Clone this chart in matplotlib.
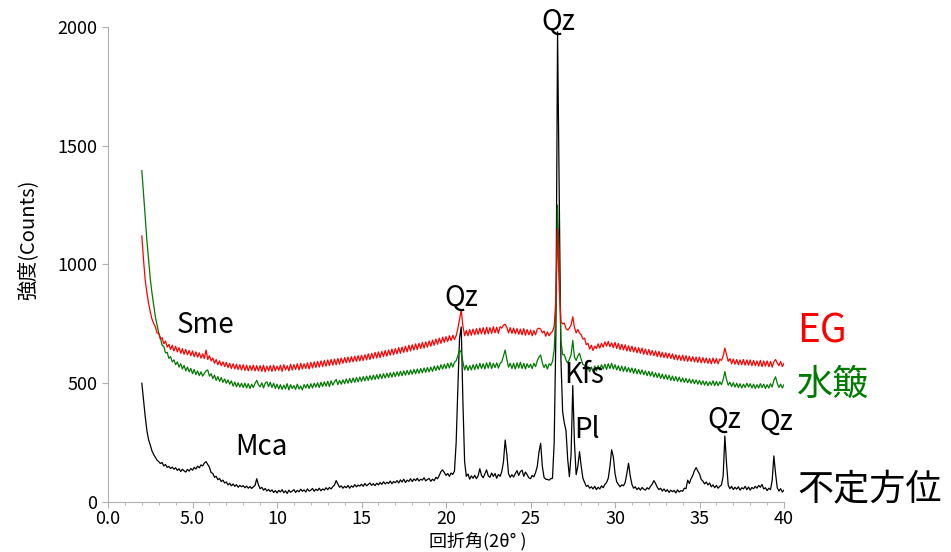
import matplotlib
matplotlib.use("Agg")
import matplotlib.pyplot as plt
import numpy as np

plt.rcParams['font.family'] = ['Noto Sans CJK JP', 'DejaVu Sans']

# 2theta scan starts at 2.0 deg, step 0.1 deg, ends at 40.0 deg
two_theta_start = 2.0
two_theta_step = 0.1

# 不定方位 (random orientation), one row per degree
counts_random = [
    500, 430, 360, 300, 262, 240, 215, 200, 188, 176,
    170, 162, 166, 152, 158, 146, 150, 141, 147, 138,
    144, 133, 140, 128, 138, 131, 126, 137, 130, 141,
    134, 146, 139, 151, 144, 156, 152, 164, 170, 158,
    146, 124, 120, 104, 108, 94, 99, 86, 92, 80,
    84, 72, 79, 68, 76, 66, 73, 62, 70, 64,
    69, 60, 67, 58, 65, 57, 64, 70, 98, 72,
    56, 62, 50, 57, 46, 53, 44, 51, 40, 48,
    38, 49, 42, 52, 39, 47, 36, 50, 41, 46,
    52, 40, 49, 43, 54, 45, 51, 42, 55, 46,
    50, 57, 45, 54, 48, 58, 47, 55, 50, 60,
    52, 61, 55, 64, 72, 90, 76, 62, 68, 58,
    66, 60, 70, 58, 68, 62, 73, 64, 71, 67,
    75, 66, 78, 68, 74, 80, 70, 77, 69, 79,
    72, 82, 74, 85, 76, 83, 78, 88, 77, 86,
    81, 90, 80, 93, 84, 96, 82, 92, 87, 98,
    86, 97, 90, 100, 88, 96, 92, 102, 89, 95,
    99, 87, 96, 90, 104, 98, 112, 128, 135, 124,
    112, 120, 108, 122, 116, 130, 250, 480, 690, 737,
    420, 170, 108, 118, 96, 110, 100, 112, 98, 110,
    140, 112, 102, 118, 135, 110, 104, 122, 108, 120,
    100, 116, 108, 128, 170, 261, 200, 118, 104, 115,
    105, 120, 132, 112, 128, 134, 108, 126, 115, 102,
    98, 112, 106, 124, 150, 210, 247, 150, 104, 96,
    95, 92, 98, 100, 250, 700, 1980, 1300, 600, 380,
    333, 300, 180, 107, 200, 490, 250, 115, 150, 212,
    150, 100, 82, 66, 70, 58, 64, 55, 66, 52,
    62, 55, 68, 60, 74, 82, 100, 150, 220, 190,
    120, 85, 74, 64, 72, 68, 82, 120, 163, 110,
    74, 58, 64, 52, 60, 50, 61, 54, 50, 60,
    54, 66, 75, 90, 78, 62, 52, 58, 46, 55,
    44, 52, 40, 50, 43, 49, 38, 51, 42, 48,
    45, 58, 56, 92, 78, 98, 112, 132, 145, 130,
    118, 95, 88, 76, 84, 72, 80, 64, 72, 60,
    70, 58, 66, 72, 110, 278, 160, 70, 56, 66,
    52, 62, 54, 64, 50, 60, 55, 66, 52, 63,
    50, 61, 56, 66, 58, 70, 62, 74, 55, 60,
    48, 58, 52, 90, 194, 120, 60, 46, 56, 42,
    50,
]

# 水簸 (elutriated)
counts_elutriated = [
    1395, 1300, 1201, 1100, 1019, 940, 880, 830, 780, 745,
    712, 690, 660, 655, 628, 630, 605, 612, 590, 598,
    578, 590, 568, 582, 560, 575, 552, 568, 548, 562,
    540, 558, 536, 552, 532, 548, 530, 542, 552, 556,
    530, 540, 520, 534, 512, 528, 508, 524, 504, 518,
    500, 514, 496, 510, 488, 505, 485, 502, 484, 500,
    482, 500, 480, 498, 478, 496, 482, 500, 512, 494,
    485, 502, 480, 500, 506, 486, 504, 482, 500, 478,
    496, 476, 494, 474, 492, 476, 498, 472, 494, 478,
    490, 474, 496, 476, 488, 472, 494, 480, 496, 478,
    498, 480, 500, 484, 502, 482, 504, 486, 506, 488,
    508, 486, 510, 492, 506, 516, 494, 512, 496, 514,
    498, 518, 500, 520, 502, 522, 504, 524, 506, 526,
    508, 528, 510, 530, 512, 532, 514, 534, 516, 536,
    518, 538, 520, 540, 522, 542, 524, 544, 526, 546,
    528, 548, 530, 550, 532, 552, 534, 554, 536, 556,
    538, 558, 540, 560, 542, 562, 544, 564, 546, 566,
    548, 568, 550, 572, 554, 574, 556, 578, 560, 580,
    562, 584, 564, 586, 568, 588, 595, 615, 640, 630,
    590, 556, 576, 554, 574, 556, 578, 558, 580, 560,
    584, 562, 582, 560, 586, 564, 588, 562, 584, 566,
    586, 564, 584, 590, 615, 640, 600, 568, 584, 562,
    584, 560, 586, 564, 588, 562, 584, 560, 582, 566,
    580, 562, 584, 570, 595, 610, 619, 585, 566, 580,
    560, 582, 575, 592, 640, 800, 1250, 1000, 680, 620,
    620, 598, 585, 600, 620, 680, 610, 596, 615, 626,
    600, 580, 575, 552, 570, 548, 568, 550, 572, 552,
    574, 556, 578, 560, 580, 558, 582, 562, 584, 560,
    578, 556, 574, 552, 572, 550, 570, 548, 566, 546,
    564, 542, 562, 540, 558, 538, 556, 536, 552, 532,
    550, 530, 548, 526, 544, 524, 542, 520, 538, 518,
    536, 516, 534, 512, 530, 510, 528, 508, 526, 506,
    522, 504, 520, 502, 518, 500, 516, 498, 514, 496,
    512, 494, 510, 492, 508, 490, 506, 492, 510, 490,
    508, 490, 506, 494, 515, 549, 515, 492, 504, 486,
    502, 484, 500, 482, 498, 480, 496, 482, 500, 484,
    498, 480, 496, 478, 494, 480, 498, 482, 496, 478,
    494, 480, 498, 484, 512, 527, 500, 482, 496, 480,
    494,
]

# EG (ethylene glycol treated)
counts_eg = [
    1120, 1020, 934, 880, 837, 800, 770, 752, 738, 712,
    710, 685, 692, 666, 678, 652, 664, 642, 660, 636,
    656, 632, 650, 626, 646, 622, 642, 620, 638, 616,
    636, 612, 632, 610, 628, 606, 624, 604, 640, 600,
    616, 594, 606, 584, 600, 578, 594, 574, 590, 570,
    588, 566, 584, 562, 582, 560, 580, 558, 578, 556,
    578, 554, 576, 552, 574, 554, 576, 552, 574, 552,
    574, 550, 576, 548, 572, 552, 574, 550, 576, 552,
    572, 554, 576, 550, 578, 556, 574, 552, 580, 556,
    578, 558, 582, 556, 584, 560, 582, 562, 586, 560,
    588, 564, 590, 566, 592, 568, 594, 570, 596, 572,
    598, 574, 600, 576, 602, 578, 604, 580, 606, 584,
    608, 586, 610, 588, 612, 590, 614, 592, 616, 594,
    618, 596, 620, 598, 624, 600, 626, 604, 630, 606,
    632, 608, 634, 612, 638, 614, 640, 618, 644, 620,
    646, 624, 650, 626, 652, 630, 656, 632, 660, 636,
    662, 640, 666, 642, 668, 646, 672, 648, 674, 652,
    678, 656, 682, 660, 686, 664, 690, 668, 694, 672,
    696, 676, 700, 680, 702, 684, 700, 730, 770, 808,
    740, 700, 722, 700, 726, 702, 728, 704, 730, 706,
    732, 708, 734, 706, 736, 708, 734, 710, 738, 712,
    736, 710, 738, 732, 745, 748, 735, 712, 734, 710,
    732, 708, 730, 706, 728, 704, 730, 702, 726, 704,
    724, 700, 722, 704, 728, 732, 728, 712, 720, 698,
    716, 700, 712, 718, 740, 850, 1150, 900, 760, 750,
    753, 730, 724, 732, 745, 780, 735, 712, 726, 711,
    704, 686, 690, 662, 668, 644, 660, 638, 656, 646,
    666, 648, 668, 652, 674, 656, 676, 654, 670, 650,
    672, 646, 668, 642, 664, 640, 662, 636, 658, 634,
    656, 632, 652, 628, 650, 626, 648, 622, 644, 620,
    642, 618, 638, 616, 636, 612, 634, 610, 630, 608,
    628, 606, 626, 604, 624, 600, 620, 598, 618, 596,
    618, 594, 616, 592, 614, 592, 612, 590, 610, 588,
    610, 586, 608, 586, 606, 584, 604, 582, 606, 584,
    604, 582, 602, 596, 615, 648, 620, 592, 604, 582,
    602, 580, 600, 578, 598, 578, 600, 576, 598, 576,
    598, 574, 596, 574, 594, 572, 596, 570, 594, 572,
    594, 570, 592, 568, 590, 600, 585, 574, 592, 570,
    584,
]

# mineral labels placed at (2theta, counts)
peak_labels = ["Qz", "Qz", "Sme", "Mca", "Kfs", "Pl", "Qz", "Qz"]
peak_label_x = [26.63, 20.89, 5.74, 9.05, 28.17, 28.34, 36.45, 39.53]
peak_label_y = [2020, 859, 745, 232, 535, 303, 345, 337]

series_names = ["不定方位", "水簸", "EG"]
series_colors = ["black", "#007a00", "#ff0000"]
series_label_y = [51, 493, 716]


def scan_axis(counts):
    return np.round(two_theta_start + two_theta_step * np.arange(len(counts)), 1)


fig = plt.figure(figsize=(9.51, 5.52), dpi=100)
ax = fig.add_axes([0.1136, 0.0906, 0.7108, 0.8605])

for counts, color in zip([counts_random, counts_elutriated, counts_eg], series_colors):
    ax.plot(scan_axis(counts), counts, color=color, lw=0.9)

for txt, x, y in zip(peak_labels, peak_label_x, peak_label_y):
    ax.text(x, y, txt, ha="center", va="center", fontsize=20, color="black")

for name, color, y in zip(series_names, series_colors, series_label_y):
    ax.text(40.77, y, name, ha="left", va="center", fontsize=26 if name != "EG" else 28,
            color=color, clip_on=False)

ax.set_xlim(0, 40)
ax.set_ylim(0, 2000)
ax.set_xticks(np.arange(0, 41, 5))
ax.set_xticklabels(["0.0", "5.0", "10", "15", "20", "25", "30", "35", "40"])
ax.set_xticks(np.arange(0, 41, 1), minor=True)
ax.set_yticks([0, 500, 1000, 1500, 2000])

for side in ["top", "right"]:
    ax.spines[side].set_visible(False)
for side in ["left", "bottom"]:
    ax.spines[side].set_color("#b0b0b0")
ax.tick_params(axis="both", which="both", color="#b0b0b0", labelsize=13)
ax.tick_params(axis="both", which="major", length=4)
ax.tick_params(axis="x", which="minor", length=2.5)
ax.tick_params(axis="x", which="major", pad=2)

ax.set_xlabel("回折角(2θ° )", fontsize=13)
ax.xaxis.set_label_coords(0.547, -0.062)
ax.set_ylabel("強度(Counts)", fontsize=14.5)
ax.yaxis.set_label_coords(-0.103, 0.552)

fig.savefig("out.png", dpi=100)
